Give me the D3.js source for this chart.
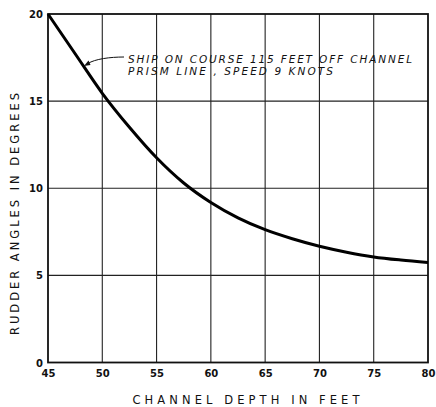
<!DOCTYPE html>
<html><head><meta charset="utf-8">
<script src="https://cdn.jsdelivr.net/npm/d3@7"></script>
<style>body{margin:0;background:#fff}svg{display:block}text{font-family:"DejaVu Sans",sans-serif;fill:#111}</style>
</head><body><svg id="c" width="436" height="407"></svg>
<script>
const depth = [45, 47.5, 50, 52.5, 55, 57.5, 60, 62.5, 65, 67.5, 70, 72.5, 75, 77.5, 80];
const angle = [20, 17.72, 15.45, 13.5, 11.75, 10.3, 9.18, 8.3, 7.62, 7.1, 6.67, 6.33, 6.06, 5.88, 5.74];
const xTicks = [45, 50, 55, 60, 65, 70, 75, 80];
const yTicks = [0, 5, 10, 15, 20];
const xTitle = "CHANNEL DEPTH IN FEET";
const yTitle = "RUDDER ANGLES IN DEGREES";
const note = ["SHIP ON COURSE 115 FEET OFF CHANNEL", "PRISM LINE , SPEED 9 KNOTS"];

const svg = d3.select("#c");
const L = 48, R = 428, T = 14, B = 362.5;
const x = d3.scaleLinear().domain([45, 80]).range([L, R]);
const y = d3.scaleLinear().domain([0, 20]).range([B, T]);

// grid
svg.append("g").selectAll("line").data(xTicks.slice(1, -1)).join("line")
  .attr("x1", d => x(d)).attr("x2", d => x(d)).attr("y1", T).attr("y2", B)
  .attr("stroke", "#222").attr("stroke-width", 1.1);
svg.append("g").selectAll("line").data(yTicks.slice(1, -1)).join("line")
  .attr("y1", d => y(d)).attr("y2", d => y(d)).attr("x1", L).attr("x2", R)
  .attr("stroke", "#222").attr("stroke-width", 1.1);
// frame
svg.append("rect").attr("x", L).attr("y", T).attr("width", R - L).attr("height", B - T)
  .attr("fill", "none").attr("stroke", "#111").attr("stroke-width", 1.8);

// axes labels via d3 axes
const xa = svg.append("g").attr("transform", `translate(0,${B})`)
  .call(d3.axisBottom(x).tickValues(xTicks).tickSize(0).tickPadding(7));
const ya = svg.append("g").attr("transform", `translate(${L},0)`)
  .call(d3.axisLeft(y).tickValues(yTicks).tickSize(0).tickPadding(5));
[xa, ya].forEach(a => { a.select(".domain").remove();
  a.selectAll("text").attr("font-family", "'DejaVu Sans',sans-serif").attr("font-size", 10)
   .attr("font-weight", "bold").attr("fill", "#111"); });
ya.selectAll("text").attr("dy", "0.36em");

// curve
svg.append("path").datum(depth.map((d, i) => [d, angle[i]]))
  .attr("d", d3.line().x(d => x(d[0])).y(d => y(d[1])).curve(d3.curveMonotoneX))
  .attr("fill", "none").attr("stroke", "#000").attr("stroke-width", 3);

// titles
svg.append("text").attr("x", 246).attr("y", 404).attr("text-anchor", "middle")
  .attr("font-size", 11.5).attr("textLength", 227).attr("lengthAdjust", "spacing").text(xTitle);
svg.append("text").attr("transform", "translate(19,214) rotate(-90)").attr("text-anchor", "middle")
  .attr("font-size", 11.5).attr("textLength", 242).attr("lengthAdjust", "spacing").text(yTitle);

// annotation
svg.append("text").attr("x", 128).attr("y", 62.5).attr("font-size", 10.5).attr("font-style", "italic")
  .attr("fill", "#000").attr("textLength", 284).attr("lengthAdjust", "spacing").text(note[0]);
svg.append("text").attr("x", 128).attr("y", 74.5).attr("font-size", 10.5).attr("font-style", "italic")
  .attr("fill", "#000").attr("textLength", 205).attr("lengthAdjust", "spacing").text(note[1]);
svg.append("path").attr("d", "M124,57 C110,57 95,59 88,63.5")
  .attr("fill", "none").attr("stroke", "#111").attr("stroke-width", 1);
svg.append("path").attr("d", "M84,66 L88.5,60.5 L90.5,65 Z").attr("fill", "#111");
</script></body></html>
